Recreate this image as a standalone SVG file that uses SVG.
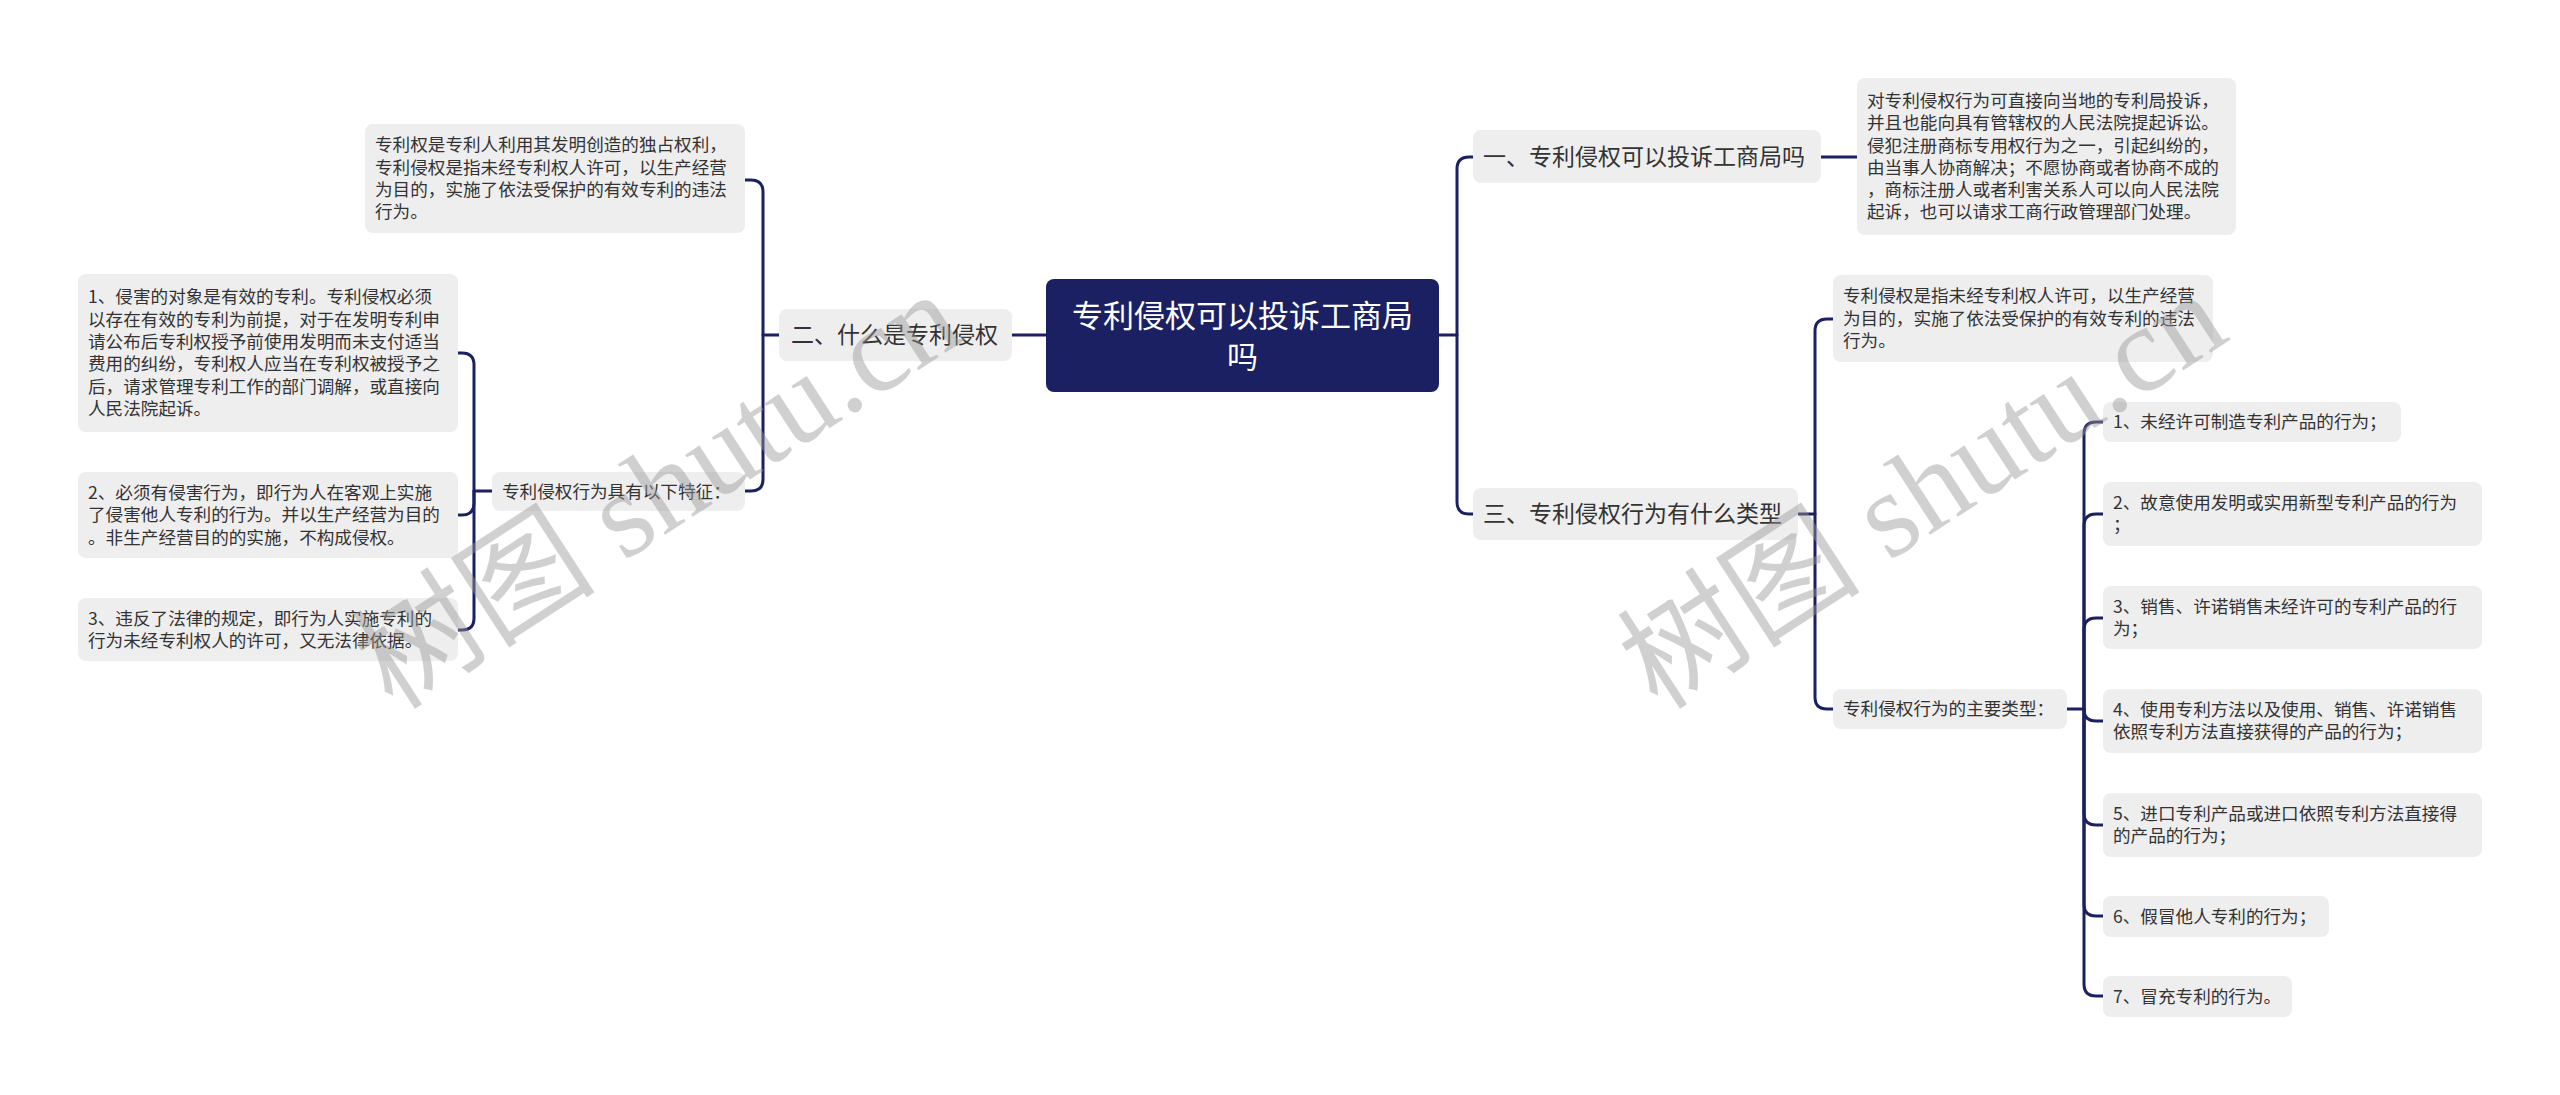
<svg xmlns="http://www.w3.org/2000/svg" width="2560" height="1095" viewBox="0 0 2560 1095">
<style>
.bg{fill:#ffffff}
.box{fill:#eeeeee}
.root{fill:#1b2062}
.t{font-family:"Microsoft YaHei","Noto Sans CJK SC","Noto Sans",sans-serif;fill:#333333}
.s{font-size:17.6px}
.m{font-size:23px}
.rt{font-family:"Microsoft YaHei","Noto Sans CJK SC","Noto Sans",sans-serif;fill:#ffffff;font-size:31px}
.c{fill:none;stroke:#1b2062;stroke-width:3;stroke-linecap:round;stroke-linejoin:round}
.wm{font-family:"Liberation Serif","Noto Sans CJK SC",serif;font-size:122px;fill:#999999;opacity:0.45}
</style>
<rect class="bg" x="0" y="0" width="2560" height="1095"/>
<g id="connectors">
<path class="c" d="M1046 335 L1012 335"/>
<path class="c" d="M779 335 L763 335 L763 192 Q763 180 751 180 L745 180"/>
<path class="c" d="M763 335 L763 479 Q763 491 751 491 L745 491"/>
<path class="c" d="M492 491 L474 491 L474 365 Q474 353 462 353 L458 353"/>
<path class="c" d="M474 491 L474 503 Q474 515 462 515 L458 515"/>
<path class="c" d="M474 491 L474 618 Q474 630 462 630 L458 630"/>
<path class="c" d="M1439 335 L1457 335 L1457 169 Q1457 157 1469 157 L1473 157"/>
<path class="c" d="M1457 335 L1457 502 Q1457 514 1469 514 L1473 514"/>
<path class="c" d="M1821 157 L1857 157"/>
<path class="c" d="M1798 514 L1815 514 L1815 331 Q1815 319 1827 319 L1833 319"/>
<path class="c" d="M1815 514 L1815 697 Q1815 709 1827 709 L1833 709"/>
<path class="c" d="M2067 709 L2084 709 L2084 434 Q2084 422 2096 422 L2103 422"/>
<path class="c" d="M2084 709 L2084 526 Q2084 514 2096 514 L2103 514"/>
<path class="c" d="M2084 709 L2084 630 Q2084 618 2096 618 L2103 618"/>
<path class="c" d="M2084 709 L2084 709 Q2084 721 2096 721 L2103 721"/>
<path class="c" d="M2084 709 L2084 813 Q2084 825 2096 825 L2103 825"/>
<path class="c" d="M2084 709 L2084 904 Q2084 916 2096 916 L2103 916"/>
<path class="c" d="M2084 709 L2084 984 Q2084 996 2096 996 L2103 996"/>
</g>
<g id="root">
<rect class="root" x="1046" y="279" width="393" height="113" rx="8"/>
<text class="rt" x="1242.5" y="327" text-anchor="middle">专利侵权可以投诉工商局</text>
<text class="rt" x="1242.5" y="368" text-anchor="middle">吗</text>
</g>
<g id="n2">
<rect class="box" x="779" y="309" width="233" height="52" rx="8"/>
<text class="t m" x="791" y="343">二、什么是专利侵权</text>
</g>
<g id="n2a">
<rect class="box" x="365" y="124" width="380" height="109" rx="8"/>
<text class="t s" x="375" y="151.2">专利权是专利人利用其发明创造的独占权利，</text>
<text class="t s" x="375" y="173.5">专利侵权是指未经专利权人许可，以生产经营</text>
<text class="t s" x="375" y="195.8">为目的，实施了依法受保护的有效专利的违法</text>
<text class="t s" x="375" y="218.1">行为。</text>
</g>
<g id="n2b">
<rect class="box" x="492" y="472" width="253" height="39" rx="8"/>
<text class="t s" x="502" y="497.5">专利侵权行为具有以下特征：</text>
</g>
<g id="n2b1">
<rect class="box" x="78" y="274" width="380" height="158" rx="8"/>
<text class="t s" x="88" y="303.4">1、侵害的对象是有效的专利。专利侵权必须</text>
<text class="t s" x="88" y="325.7">以存在有效的专利为前提，对于在发明专利申</text>
<text class="t s" x="88" y="348">请公布后专利权授予前使用发明而未支付适当</text>
<text class="t s" x="88" y="370.3">费用的纠纷，专利权人应当在专利权被授予之</text>
<text class="t s" x="88" y="392.6">后，请求管理专利工作的部门调解，或直接向</text>
<text class="t s" x="88" y="414.9">人民法院起诉。</text>
</g>
<g id="n2b2">
<rect class="box" x="78" y="472" width="380" height="86" rx="8"/>
<text class="t s" x="88" y="498.9">2、必须有侵害行为，即行为人在客观上实施</text>
<text class="t s" x="88" y="521.2">了侵害他人专利的行为。并以生产经营为目的</text>
<text class="t s" x="88" y="543.5">。非生产经营目的的实施，不构成侵权。</text>
</g>
<g id="n2b3">
<rect class="box" x="78" y="598" width="380" height="63" rx="8"/>
<text class="t s" x="88" y="624.5">3、违反了法律的规定，即行为人实施专利的</text>
<text class="t s" x="88" y="646.8">行为未经专利权人的许可，又无法律依据。</text>
</g>
<g id="n1">
<rect class="box" x="1473" y="130" width="348" height="53" rx="8"/>
<text class="t m" x="1483" y="165">一、专利侵权可以投诉工商局吗</text>
</g>
<g id="n1a">
<rect class="box" x="1857" y="78" width="379" height="157" rx="8"/>
<text class="t s" x="1867" y="106.9">对专利侵权行为可直接向当地的专利局投诉，</text>
<text class="t s" x="1867" y="129.2">并且也能向具有管辖权的人民法院提起诉讼。</text>
<text class="t s" x="1867" y="151.5">侵犯注册商标专用权行为之一，引起纠纷的，</text>
<text class="t s" x="1867" y="173.8">由当事人协商解决；不愿协商或者协商不成的</text>
<text class="t s" x="1867" y="196.1">，商标注册人或者利害关系人可以向人民法院</text>
<text class="t s" x="1867" y="218.4">起诉，也可以请求工商行政管理部门处理。</text>
</g>
<g id="n3">
<rect class="box" x="1473" y="488" width="325" height="52" rx="8"/>
<text class="t m" x="1483" y="522">三、专利侵权行为有什么类型</text>
</g>
<g id="n3a">
<rect class="box" x="1833" y="275" width="380" height="87" rx="8"/>
<text class="t s" x="1843" y="302.3">专利侵权是指未经专利权人许可，以生产经营</text>
<text class="t s" x="1843" y="324.6">为目的，实施了依法受保护的有效专利的违法</text>
<text class="t s" x="1843" y="346.9">行为。</text>
</g>
<g id="n3b">
<rect class="box" x="1833" y="689" width="234" height="40" rx="8"/>
<text class="t s" x="1843" y="715">专利侵权行为的主要类型：</text>
</g>
<g id="i1">
<rect class="box" x="2103" y="402" width="298" height="40" rx="8"/>
<text class="t s" x="2113" y="428">1、未经许可制造专利产品的行为；</text>
</g>
<g id="i2">
<rect class="box" x="2103" y="482" width="379" height="64" rx="8"/>
<text class="t s" x="2113" y="509">2、故意使用发明或实用新型专利产品的行为</text>
<text class="t s" x="2113" y="531.3">；</text>
</g>
<g id="i3">
<rect class="box" x="2103" y="586" width="379" height="63" rx="8"/>
<text class="t s" x="2113" y="612.5">3、销售、许诺销售未经许可的专利产品的行</text>
<text class="t s" x="2113" y="634.8">为；</text>
</g>
<g id="i4">
<rect class="box" x="2103" y="689" width="379" height="64" rx="8"/>
<text class="t s" x="2113" y="716">4、使用专利方法以及使用、销售、许诺销售</text>
<text class="t s" x="2113" y="738.3">依照专利方法直接获得的产品的行为；</text>
</g>
<g id="i5">
<rect class="box" x="2103" y="793" width="379" height="64" rx="8"/>
<text class="t s" x="2113" y="820">5、进口专利产品或进口依照专利方法直接得</text>
<text class="t s" x="2113" y="842.3">的产品的行为；</text>
</g>
<g id="i6">
<rect class="box" x="2103" y="896" width="226" height="41" rx="8"/>
<text class="t s" x="2113" y="922.5">6、假冒他人专利的行为；</text>
</g>
<g id="i7">
<rect class="box" x="2103" y="976" width="189" height="41" rx="8"/>
<text class="t s" x="2113" y="1002.5">7、冒充专利的行为。</text>
</g>
<g id="watermarks">
<text class="wm" x="680" y="525" text-anchor="middle" transform="rotate(-33 680 525)">树图 shutu.cn</text>
<text class="wm" x="1945" y="525" text-anchor="middle" transform="rotate(-33 1945 525)">树图 shutu.cn</text>
</g>
</svg>
